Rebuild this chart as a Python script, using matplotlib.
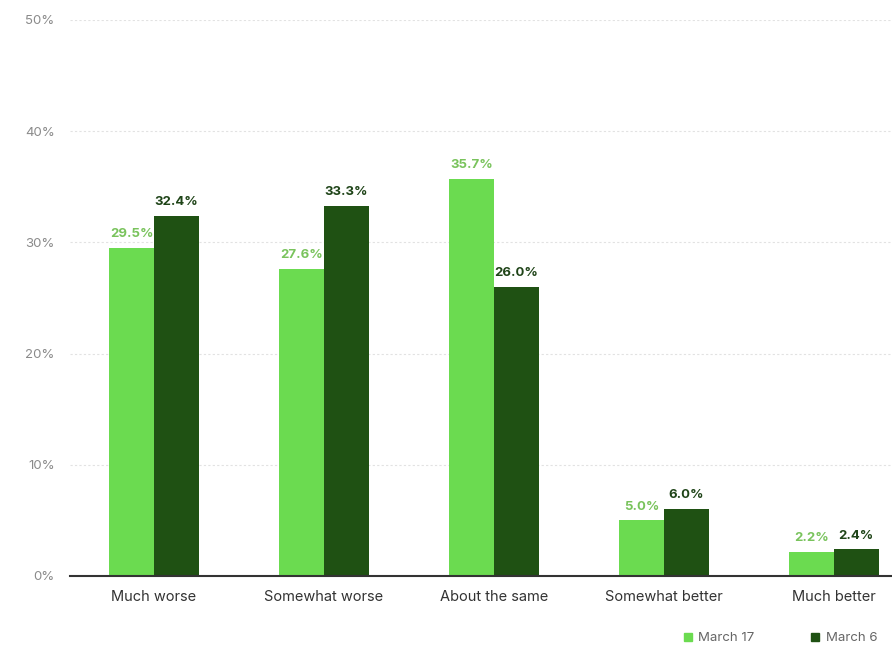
import numpy as np
import matplotlib.pyplot as plt
from matplotlib.lines import Line2D

categories = ['Much worse', 'Somewhat worse', 'About the same', 'Somewhat better', 'Much better']
march17 = [29.5, 27.6, 35.7, 5.0, 2.2]
march6 = [32.4, 33.3, 26.0, 6.0, 2.4]
series_names = ['March 17', 'March 6']

light = '#6bdb50'
dark = '#1f5113'
light_txt = '#79c35c'
dark_txt = '#1f4418'

plt.rcParams['font.family'] = ['Inter', 'DejaVu Sans']

fig = plt.figure(figsize=(8.92, 6.46), dpi=100)
ax = fig.add_axes([0.0785, 0.1084, 0.9215, 0.8607])

x = np.arange(len(categories))
width = 0.262

ax.bar(x - width / 2, march17, width=width, color=light, zorder=3)
ax.bar(x + width / 2, march6, width=width, color=dark, zorder=3)

for a, b in zip(x - width / 2, march17):
    ax.text(a, b + 0.7, '%.1f%%' % b, ha='center', va='bottom', fontsize=9.5,
            fontweight='bold', color=light_txt)
for a, b in zip(x + width / 2, march6):
    ax.text(a, b + 0.7, '%.1f%%' % b, ha='center', va='bottom', fontsize=9.5,
            fontweight='bold', color=dark_txt)

ax.set_xlim(-0.494, 4.341)
ax.set_ylim(0, 50)
ax.set_yticks(range(0, 51, 10))
ax.set_yticklabels(['%d%%' % v for v in range(0, 51, 10)], color='#8a8a8a', fontsize=9.5)
ax.set_xticks(x)
ax.set_xticklabels(categories, color='#333333', fontsize=10.5)
ax.tick_params(axis='y', length=0, pad=11)
ax.tick_params(axis='x', length=0, pad=10)

ax.grid(axis='y', linestyle=(0, (2, 2)), color='#e2e2e2', linewidth=0.8, zorder=0)
for s in ['left', 'right', 'top']:
    ax.spines[s].set_visible(False)
ax.spines['bottom'].set_color('#333333')
ax.spines['bottom'].set_linewidth(1.5)
ax.spines['bottom'].set_zorder(4)

handles = [Line2D([], [], marker='s', linestyle='', color=light, markersize=6),
           Line2D([], [], marker='s', linestyle='', color=dark, markersize=6)]
fig.legend(handles, series_names, loc='center', bbox_to_anchor=(0.87, 0.012),
           ncol=2, frameon=False, fontsize=9.5, handletextpad=-0.2,
           columnspacing=3.6, labelcolor='#666666')

plt.savefig('out.png', dpi=100)
